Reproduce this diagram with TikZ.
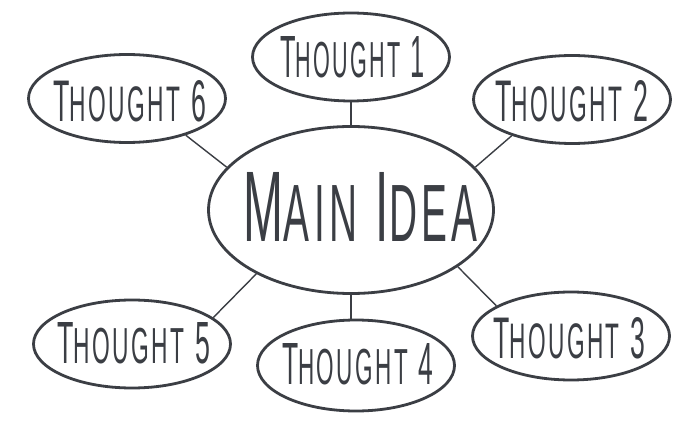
\documentclass[tikz,border=0pt]{standalone}
\usepackage{fontspec}
\setmainfont{Liberation Sans}[LetterSpace=11]
\usetikzlibrary{shapes.geometric}
\definecolor{ink}{HTML}{3B3E44}
\newcommand{\thoughttext}[2]{\resizebox{#1}{41pt}{T\fontsize{8.5}{10}\selectfont HOUGHT\fontsize{10}{12}\selectfont\ #2\kern-1.1pt}}
\newcommand{\maintext}{\resizebox{229pt}{69pt}{M\fontsize{8.1}{10}\selectfont AIN\fontsize{10}{12}\selectfont\ I\fontsize{8.1}{10}\selectfont DEA\kern-0.9pt}}
\tikzset{
  bubble/.style={draw=ink, line width=2.8pt, ellipse, inner sep=0pt, fill=white},
  small/.style={bubble, minimum width=197pt, minimum height=88pt},
  label text/.style={inner sep=0pt, text=ink},
  link/.style={draw=ink, line width=1.4pt}
}
\begin{document}
\begin{tikzpicture}[x=1pt,y=-1pt]
\useasboundingbox[fill=white] (0,0) rectangle (700,435);
\node[bubble, minimum width=285pt, minimum height=167pt] (main) at (351,210) {};
\node[small] (t1) at (351,57) {};
\node[small] (t2) at (572,99.5) {};
\node[small] (t3) at (571,336) {};
\node[small, minimum height=91pt] (t4) at (356,365.5) {};
\node[small] (t5) at (132,344) {};
\node[small] (t6) at (127,98.5) {};
\draw[link] (main.north) -- (t1.south);
\draw[link] (main.south) -- (main.south |- t4.north);
\draw[link] (main.19.7) -- (t2.211);
\draw[link] (main.161) -- (t6.328.6);
\draw[link] (main.214.4) -- (t5.18.6);
\draw[link] (main.332) -- (t3.158);
\node[label text] (mainlbl) at (358.5,206.5) {\maintext};
\node[label text] (l1) at (351,57.5) {\thoughttext{142pt}{1}};
\node[label text] (l2) at (570,101) {\thoughttext{150pt}{2}};
\node[label text] (l3) at (567.5,338.5) {\thoughttext{149pt}{3}};
\node[label text] (l4) at (356,364) {\thoughttext{148pt}{4}};
\node[label text] (l5) at (132,343.5) {\thoughttext{150pt}{5}};
\node[label text] (l6) at (128,101.5) {\thoughttext{150pt}{6}};
\end{tikzpicture}
\end{document}
